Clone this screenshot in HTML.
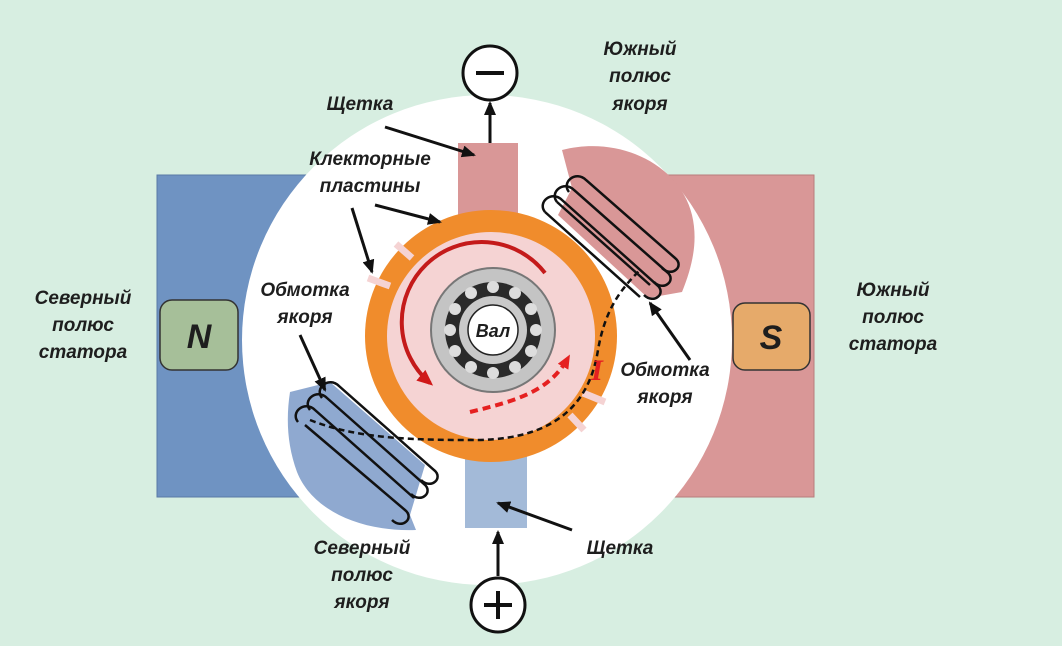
<!DOCTYPE html>
<html><head><meta charset="utf-8"><style>
html,body{margin:0;padding:0;background:#d7eee1;}
svg{display:block}
text{font-family:"Liberation Sans",sans-serif;font-weight:bold;font-style:italic;font-size:19px;fill:#1e1e1e;text-anchor:middle}
</style></head><body>
<svg width="1062" height="646" viewBox="0 0 1062 646">
<defs>
<marker id="ah" markerWidth="14" markerHeight="12" refX="12" refY="6" orient="auto" markerUnits="userSpaceOnUse"><path d="M0,0 L14,6 L0,12 Z" fill="#111"/></marker>
<marker id="rh" markerWidth="16" markerHeight="14" refX="12" refY="7" orient="auto" markerUnits="userSpaceOnUse"><path d="M0,0 L16,7 L0,14 Z" fill="#d01818"/></marker>
<marker id="dh" markerWidth="14" markerHeight="12" refX="10" refY="6" orient="auto" markerUnits="userSpaceOnUse"><path d="M0,0 L14,6 L0,12 Z" fill="#e52020"/></marker>
</defs>
<rect width="1062" height="646" fill="#d7eee1"/>
<rect x="157" y="175" width="160" height="322" fill="#6f93c2" stroke="#5a7aa5"/>
<rect x="660" y="175" width="154" height="322" fill="#d99797" stroke="#b87c7c"/>
<circle cx="487" cy="340" r="245" fill="#ffffff"/>
<!-- armature poles -->
<path d="M562,150 C620,135 680,165 692,215 C698,240 693,265 682,292 L648,298 L558,215 L572,188 Z" fill="#d99797"/>
<path d="M290,392 L330,382 L425,465 L410,515 L416,530 C360,532 312,510 297,472 C287,445 286,418 290,392 Z" fill="#8fa9d0"/>
<rect x="458" y="143" width="60" height="100" fill="#d99797"/>
<rect x="465" y="440" width="62" height="88" fill="#a3bad8"/>
<circle cx="491" cy="336" r="126" fill="#f08c2c"/>
<circle cx="491" cy="336" r="104" fill="#f5d3d3"/>
<g stroke="#f5d3d3" stroke-width="7">
<line x1="412" y1="258" x2="396" y2="244"/>
<line x1="390" y1="286" x2="368" y2="278"/>
<line x1="583" y1="393" x2="605" y2="402"/>
<line x1="570" y1="415" x2="584" y2="430"/>
</g>
<path d="M545,273 A80,80 0 1 0 430,383" fill="none" stroke="#c41a1a" stroke-width="4" marker-end="url(#rh)"/>
<circle cx="493" cy="330" r="62" fill="#c4c4c4" stroke="#777" stroke-width="2"/>
<circle cx="493" cy="330" r="48" fill="#2a2a2a"/>
<g fill="#ddd">
<circle cx="493" cy="287" r="6"/><circle cx="515" cy="293" r="6"/><circle cx="531" cy="309" r="6"/><circle cx="536" cy="330" r="6"/><circle cx="531" cy="351" r="6"/><circle cx="515" cy="367" r="6"/><circle cx="493" cy="373" r="6"/><circle cx="471" cy="367" r="6"/><circle cx="455" cy="351" r="6"/><circle cx="450" cy="330" r="6"/><circle cx="455" cy="309" r="6"/><circle cx="471" cy="293" r="6"/>
</g>
<circle cx="493" cy="330" r="34" fill="#c9c9c9"/>
<circle cx="493" cy="330" r="25" fill="#fff" stroke="#222" stroke-width="1.5"/>
<text x="493" y="337" style="font-size:18px">Вал</text>
<g fill="none" stroke="#111" stroke-width="2.5">
<path d="M545,212 C537,202 552,190 562,200 L657,285 C667,293 654,305 644,295"/>
<path d="M557,202 C549,192 564,180 574,190 L667,272 C677,280 664,292 654,282"/>
<path d="M569,192 C561,182 576,170 586,180 L675,258 C685,266 672,278 662,268"/>
<path d="M545,212 L640,297"/>
<path d="M557,202 L650,285"/>
</g>
<g fill="none" stroke="#111" stroke-width="2.5">
<path d="M322,398 C314,388 329,376 339,386 L434,470 C444,478 431,490 421,480"/>
<path d="M310,410 C302,400 317,388 327,398 L424,484 C434,492 421,504 411,494"/>
<path d="M298,422 C290,412 305,400 315,410 L414,498"/>
<path d="M305,425 L405,510 C415,518 402,530 392,520"/>
</g>
<path d="M310,420 C360,440 420,440 480,440 C560,438 590,400 598,350 C605,310 620,290 640,270" fill="none" stroke="#111" stroke-width="2.5" stroke-dasharray="6,4"/>
<path d="M470,412 C520,400 550,390 568,358" fill="none" stroke="#e52020" stroke-width="4" stroke-dasharray="8,5" marker-end="url(#dh)"/>
<text x="597" y="380" style="fill:#e52020;font-size:30px;font-family:'Liberation Serif',serif">I</text>
<rect x="160" y="300" width="78" height="70" rx="12" fill="#a6bf99" stroke="#333" stroke-width="1.5"/>
<text x="199" y="348" style="font-size:34px">N</text>
<rect x="733" y="303" width="77" height="67" rx="12" fill="#e6aa6a" stroke="#333" stroke-width="1.5"/>
<text x="771" y="349" style="font-size:34px">S</text>
<circle cx="490" cy="73" r="27" fill="#fff" stroke="#111" stroke-width="3"/>
<line x1="476" y1="73" x2="504" y2="73" stroke="#111" stroke-width="4"/>
<line x1="490" y1="143" x2="490" y2="103" stroke="#111" stroke-width="3" marker-end="url(#ah)"/>
<circle cx="498" cy="605" r="27" fill="#fff" stroke="#111" stroke-width="3"/>
<line x1="484" y1="605" x2="512" y2="605" stroke="#111" stroke-width="4"/>
<line x1="498" y1="591" x2="498" y2="619" stroke="#111" stroke-width="4"/>
<line x1="498" y1="576" x2="498" y2="532" stroke="#111" stroke-width="3" marker-end="url(#ah)"/>
<g stroke="#111" stroke-width="3" fill="none" marker-end="url(#ah)">
<line x1="385" y1="127" x2="474" y2="155"/>
<line x1="375" y1="205" x2="440" y2="222"/>
<line x1="352" y1="208" x2="372" y2="272"/>
<line x1="300" y1="335" x2="325" y2="390"/>
<line x1="690" y1="360" x2="650" y2="303"/>
<line x1="572" y1="530" x2="498" y2="503"/>
</g>
<text x="640" y="55">Южный</text><text x="640" y="82">полюс</text><text x="640" y="110">якоря</text>
<text x="360" y="110">Щетка</text>
<text x="370" y="165">Клекторные</text><text x="370" y="192">пластины</text>
<text x="83" y="304">Северный</text><text x="83" y="331">полюс</text><text x="83" y="358">статора</text>
<text x="893" y="296">Южный</text><text x="893" y="323">полюс</text><text x="893" y="350">статора</text>
<text x="305" y="296">Обмотка</text><text x="305" y="323">якоря</text>
<text x="665" y="376">Обмотка</text><text x="665" y="403">якоря</text>
<text x="362" y="554">Северный</text><text x="362" y="581">полюс</text><text x="362" y="608">якоря</text>
<text x="620" y="554">Щетка</text>
</svg>
</body></html>
